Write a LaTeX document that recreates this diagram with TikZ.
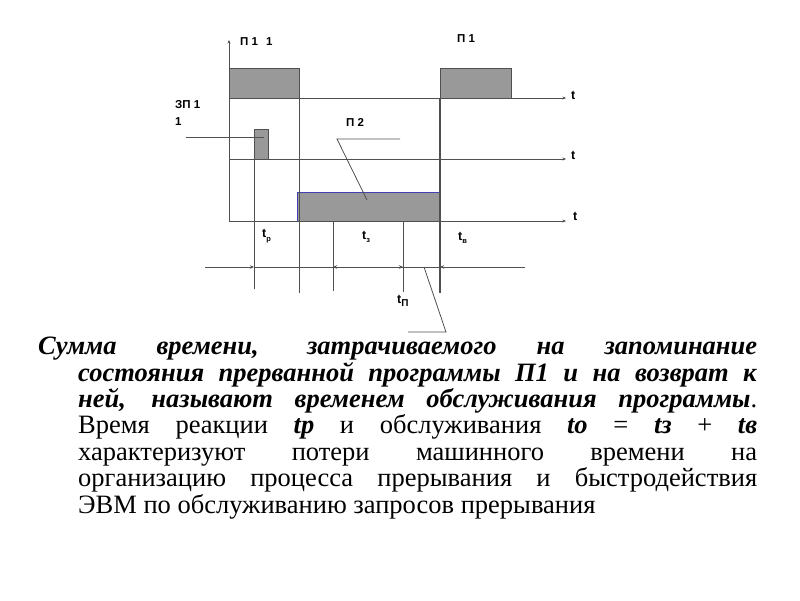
\documentclass[tikz,border=0pt]{standalone}
\usepackage{fontspec}
\setmainfont{Liberation Serif}
\newfontfamily\diagfont{Liberation Sans}
\usetikzlibrary{arrows.meta}
\definecolor{ln}{HTML}{505050}
\definecolor{fillg}{HTML}{999999}
\definecolor{p2edge}{HTML}{4040B0}
\newcommand{\tsub}[1]{{\bfseries t}\raisebox{-3.5pt}{\fontsize{7.5}{7.5}\selectfont #1}}
\begin{document}
\begin{tikzpicture}[x=1pt,y=-1pt,
  thin line/.style={draw=ln, line width=0.8pt},
  axisline/.style={draw=ln, line width=0.8pt, -{Stealth[length=3.5pt,width=3pt]}},
  blockbox/.style={fill=fillg, draw=ln, line width=0.9pt},
  lbl/.style={font=\diagfont\bfseries\fontsize{11.5}{13}\selectfont, inner sep=0pt},
  tlbl/.style={font=\diagfont\bfseries\fontsize{12.5}{14}\selectfont, inner sep=0pt},
  tip/.style={-{Stealth[length=4pt,width=3.5pt]}}
]
\useasboundingbox (0,0) rectangle (800,600);
\fill[white] (0,0) rectangle (800,600);

% coordinates
\coordinate (o) at (229,221);
\coordinate (top) at (229,40);
\coordinate (a1s) at (229,98);  \coordinate (a1e) at (566,98);
\coordinate (a2s) at (229,159); \coordinate (a2e) at (566,159);
\coordinate (a3s) at (229,221); \coordinate (a3e) at (566,221);

% blocks
\draw[blockbox] (229,68) rectangle (299,98);
\draw[blockbox] (440,68) rectangle (511,98);
\draw[blockbox] (254,129) rectangle (268,159);
\draw[fill=fillg, draw=p2edge, line width=0.9pt] (297,192) rectangle (440,221);

% axes
\draw[axisline] (o) -- (top);
\draw[axisline] (a1s) -- (a1e);
\draw[axisline] (a2s) -- (a2e);
\draw[axisline] (a3s) -- (a3e);
\node[tlbl, anchor=west] (t1) at (571,95) {t};
\node[tlbl, anchor=west] (t2) at (571,155) {t};
\node[tlbl, anchor=west] (t3) at (573,216) {t};

% verticals
\draw[thin line] (254,159) -- (254,289);
\draw[thin line] (299,98) -- (299,293);
\draw[draw=ln, line width=1.2pt] (440,98) -- (440,293);
\draw[thin line] (333,221) -- (333,291);
\draw[thin line] (403,221) -- (403,292);

% leaders
\coordinate (zpA) at (186,137); \coordinate (zpB) at (264,137);
\draw[thin line] (zpA) -- (zpB);
\coordinate (p2A) at (400,139); \coordinate (p2B) at (337,139); \coordinate (p2C) at (367,200);
\draw[thin line] (p2A) -- (p2B) -- (p2C);

% dimension line
\coordinate (d0) at (205,267); \coordinate (d1) at (254,267);
\coordinate (d2) at (333,267); \coordinate (d3) at (403,267);
\coordinate (d4) at (440,267); \coordinate (d5) at (525,267);
\draw[thin line, tip] (d0) -- (d1);
\draw[thin line] (d1) -- (d2);
\draw[thin line, tip] (d3) -- (d2);
\draw[thin line, tip] (d2) -- (d3);
\draw[thin line] (d3) -- (d4);
\draw[thin line, tip] (d5) -- (d4);
\coordinate (tpA) at (424,267); \coordinate (tpB) at (446,332); \coordinate (tpC) at (408,332);
\draw[thin line] (tpA) -- (tpB) -- (tpC);

% labels
\node[lbl, anchor=west] (p11) at (240,42) {П 1\hspace{8pt}1};
\node[lbl, anchor=west] (p1) at (457,39) {П 1};
\node[lbl, anchor=west] (zp) at (175,105) {ЗП 1};
\node[lbl, anchor=west] (zp1) at (175,122) {1};
\node[lbl, anchor=west] (p2) at (346,122) {П 2};
\node[tlbl, anchor=west] (ltp) at (262,236) {\tsub{р}};
\node[tlbl, anchor=west] (ltz) at (362,237) {\tsub{з}};
\node[tlbl, anchor=west] (ltv) at (458,238) {\tsub{в}};
\node[tlbl, anchor=west] (ltP) at (397,301) {{\bfseries t}\raisebox{-3.5pt}{\fontsize{10}{10}\selectfont П}};

% paragraph
\node[anchor=north west, inner sep=0pt, text width=719pt, align=justify,
      font=\fontsize{26.5}{26.4}\selectfont] (para) at (38,337) {%
\hangindent=40pt\hangafter=1
\textbf{\textit{Сумма времени, затрачиваемого на запоминание}}\linebreak
\textbf{\textit{состояния прерванной программы П1 и на возврат к}}\linebreak
\textbf{\textit{ней, называют временем обслуживания программы}}.\linebreak
Время реакции \textbf{\textit{tp}} и обслуживания \textbf{\textit{to}} = \textbf{\textit{tз}} + \textbf{\textit{tв}}\linebreak
характеризуют потери машинного времени на\linebreak
организацию процесса прерывания и быстродействия\linebreak
ЭВМ по обслуживанию запросов прерывания\par};
\end{tikzpicture}
\end{document}
